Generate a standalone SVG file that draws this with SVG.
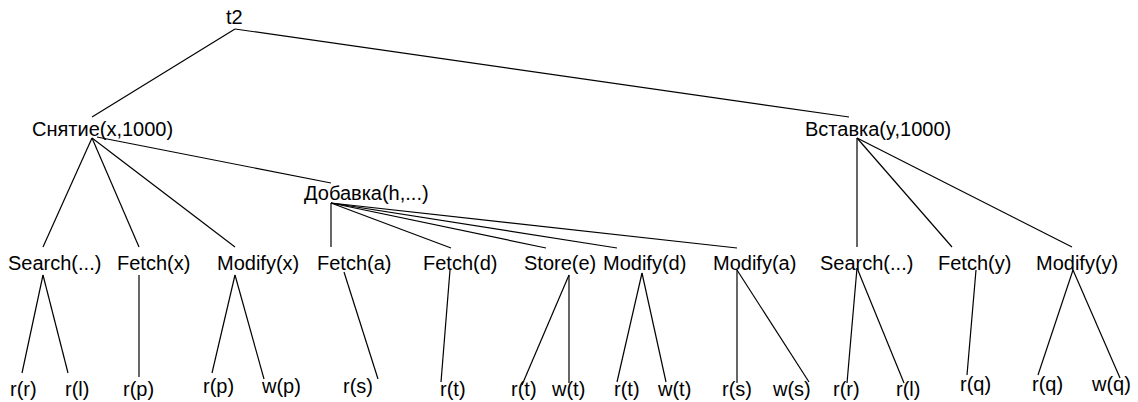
<svg xmlns="http://www.w3.org/2000/svg" width="1138" height="402" viewBox="0 0 1138 402">
<style>
text{font-family:"Liberation Sans",Arial,sans-serif;font-size:20px;fill:#000}
#connectors line{stroke:#000;stroke-width:1.2;fill:none}
</style>
<rect width="1138" height="402" fill="#fff"/>
<g id="connectors">
<line x1="235" y1="29" x2="92" y2="117"/>
<line x1="235" y1="29" x2="849" y2="117"/>
<line x1="92" y1="138" x2="43" y2="247"/>
<line x1="92" y1="138" x2="139" y2="247"/>
<line x1="92" y1="138" x2="235" y2="247"/>
<line x1="97" y1="137" x2="331" y2="183"/>
<line x1="331" y1="203" x2="331" y2="247"/>
<line x1="331" y1="203" x2="451" y2="248"/>
<line x1="331" y1="203" x2="546" y2="248"/>
<line x1="331" y1="203" x2="617" y2="248"/>
<line x1="331" y1="203" x2="737" y2="248"/>
<line x1="857" y1="138" x2="857" y2="247"/>
<line x1="857" y1="138" x2="952" y2="247"/>
<line x1="857" y1="138" x2="1072" y2="247"/>
<line x1="43" y1="275" x2="22" y2="373"/>
<line x1="43" y1="275" x2="68" y2="373"/>
<line x1="139" y1="275" x2="139" y2="377"/>
<line x1="235" y1="275" x2="212" y2="373"/>
<line x1="235" y1="275" x2="264" y2="379"/>
<line x1="344" y1="272" x2="378" y2="379"/>
<line x1="450" y1="270" x2="441" y2="382"/>
<line x1="569" y1="275" x2="522" y2="385"/>
<line x1="569" y1="275" x2="569" y2="383"/>
<line x1="642" y1="273" x2="617" y2="382"/>
<line x1="642" y1="273" x2="666" y2="382"/>
<line x1="737" y1="270" x2="737" y2="383"/>
<line x1="737" y1="270" x2="809" y2="382"/>
<line x1="857" y1="268" x2="847" y2="383"/>
<line x1="857" y1="268" x2="904" y2="383"/>
<line x1="976" y1="270" x2="967" y2="375"/>
<line x1="1073" y1="270" x2="1038" y2="375"/>
<line x1="1073" y1="270" x2="1120" y2="378"/>
</g>
<g id="n-t2"><text x="226" y="24">t2</text></g>
<g id="n-snyatie"><text x="32" y="136">Снятие(x,1000)</text></g>
<g id="n-vstavka"><text x="805" y="136">Вставка(y,1000)</text></g>
<g id="n-dobavka"><text x="304" y="200">Добавка(h,...)</text></g>
<g id="n-search1"><text x="8" y="270">Search(...)</text></g>
<g id="n-fetchx"><text x="117" y="270">Fetch(x)</text></g>
<g id="n-modifyx"><text x="217" y="270">Modify(x)</text></g>
<g id="n-fetcha"><text x="317" y="270">Fetch(a)</text></g>
<g id="n-fetchd"><text x="423" y="270">Fetch(d)</text></g>
<g id="n-storee"><text x="524" y="270">Store(e)</text></g>
<g id="n-modifyd"><text x="603" y="270">Modify(d)</text></g>
<g id="n-modifya"><text x="713" y="270">Modify(a)</text></g>
<g id="n-search2"><text x="820" y="270">Search(...)</text></g>
<g id="n-fetchy"><text x="938" y="270">Fetch(y)</text></g>
<g id="n-modifyy"><text x="1036" y="270">Modify(y)</text></g>
<g id="n-rr1"><text x="10" y="396">r(r)</text></g>
<g id="n-rl1"><text x="65" y="396">r(l)</text></g>
<g id="n-rp1"><text x="123" y="396">r(p)</text></g>
<g id="n-rp2"><text x="203" y="393">r(p)</text></g>
<g id="n-wp"><text x="262" y="393">w(p)</text></g>
<g id="n-rs1"><text x="343" y="393">r(s)</text></g>
<g id="n-rt1"><text x="440" y="396">r(t)</text></g>
<g id="n-rt2"><text x="511" y="396">r(t)</text></g>
<g id="n-wt1"><text x="552" y="396">w(t)</text></g>
<g id="n-rt3"><text x="614" y="396">r(t)</text></g>
<g id="n-wt2"><text x="658" y="396">w(t)</text></g>
<g id="n-rs2"><text x="722" y="396">r(s)</text></g>
<g id="n-ws"><text x="773" y="396">w(s)</text></g>
<g id="n-rr2"><text x="833" y="396">r(r)</text></g>
<g id="n-rl2"><text x="896" y="396">r(l)</text></g>
<g id="n-rq1"><text x="960" y="391">r(q)</text></g>
<g id="n-rq2"><text x="1032" y="391">r(q)</text></g>
<g id="n-wq"><text x="1092" y="391">w(q)</text></g>
</svg>
